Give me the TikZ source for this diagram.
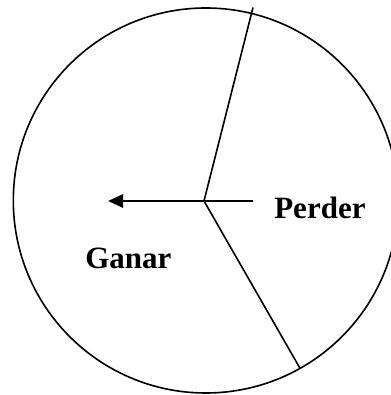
\documentclass[tikz,border=0pt]{standalone}
\usepackage{fontspec}
\setmainfont{Liberation Serif}
\usetikzlibrary{arrows.meta}
\begin{document}
\begin{tikzpicture}[x=1pt, y=1pt, line width=1.6pt,
  every node/.style={font=\fontsize{31}{37}\selectfont\bfseries, inner sep=0pt, anchor=base west}]
  \useasboundingbox (0,0) rectangle (390,395);
  % wheel and its two spokes
  \coordinate (ctr) at (205.8,194.5);
  \coordinate (hub) at (204,194);
  \coordinate (spoketop) at (253,387.5);
  \coordinate (spokebot) at (300,26.7);
  \draw (ctr) circle (192.5);
  \draw (hub) -- (spoketop);
  \draw (hub) -- (spokebot);
  % pointer
  \coordinate (ptrstart) at (253,194);
  \coordinate (ptrtip) at (108,194);
  \draw[line width=2.6pt, -{Triangle[length=15pt,width=13pt]}] (ptrstart) -- (ptrtip);
  \node (perder) at (273.5,176.7) {Perder};
  \node (ganar) at (84.5,126.7) {Ganar};
\end{tikzpicture}
\end{document}
